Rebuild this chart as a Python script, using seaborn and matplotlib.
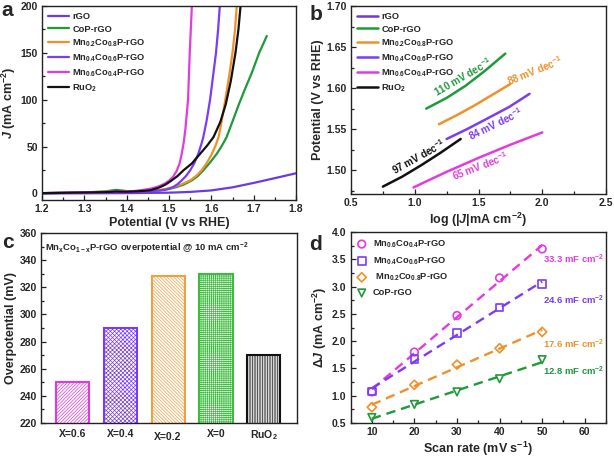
import numpy as np
import pandas as pd
import matplotlib
matplotlib.use('Agg')
import matplotlib.pyplot as plt
import matplotlib.transforms as mtrans
import seaborn as sns
from matplotlib.ticker import MultipleLocator, FormatStrFormatter

# ---------------- data ----------------
# panel a: LSV curves (potential V vs RHE, current density mA cm-2)
rgo_v = [1.20, 1.30, 1.40, 1.50, 1.55, 1.60, 1.65, 1.70, 1.75, 1.80]
rgo_j = [0.0, 0.1, 0.3, 0.8, 1.6, 3.2, 6.5, 11.2, 16.3, 21.5]
cop_v = [1.20, 1.30, 1.35, 1.375, 1.40, 1.45, 1.479, 1.50, 1.518, 1.535, 1.554, 1.568, 1.581,
         1.597, 1.613, 1.625, 1.636, 1.651, 1.665, 1.680, 1.695, 1.713, 1.731]
cop_j = [0.3, 1.0, 2.2, 3.8, 2.5, 2.6, 3.3, 4.8, 6.8, 9.5, 13.9, 18.5, 24.6,
         33, 42.4, 51, 60, 78, 95, 112, 128, 150, 168]
mn02_v = [1.20, 1.30, 1.35, 1.375, 1.40, 1.45, 1.47, 1.49, 1.51, 1.53, 1.55, 1.565, 1.577,
          1.590, 1.601, 1.610, 1.617, 1.624, 1.633, 1.642, 1.650, 1.656, 1.660]
mn02_j = [0.3, 1.0, 1.8, 2.5, 2.3, 2.8, 3.3, 4.6, 6.8, 9.8, 13.9, 19, 24.6,
          33, 42, 51, 60, 76, 100, 125, 150, 175, 200]
mn04_v = [1.20, 1.30, 1.35, 1.375, 1.40, 1.45, 1.47, 1.49, 1.50, 1.51, 1.52, 1.53, 1.54, 1.55,
          1.56, 1.569, 1.576, 1.581, 1.589, 1.597, 1.604, 1.611, 1.616, 1.620]
mn04_j = [0.3, 0.8, 1.2, 2.0, 1.5, 2.2, 2.8, 3.8, 5.0, 6.8, 9.8, 13.9, 18.5, 24.6,
          32.5, 42, 52, 60, 78, 100, 125, 150, 175, 200]
mn06_v = [1.20, 1.25, 1.30, 1.35, 1.375, 1.40, 1.42, 1.44, 1.46, 1.475, 1.49, 1.50, 1.51,
          1.518, 1.525, 1.530, 1.535, 1.539, 1.542, 1.545, 1.549, 1.554]
mn06_j = [0.3, 0.6, 1.0, 1.5, 2.0, 1.8, 2.6, 3.8, 5.4, 7.4, 10.5, 13.5, 18,
          24, 32, 42, 55, 70, 85, 100, 150, 200]
ruo2_v = [1.20, 1.30, 1.35, 1.375, 1.40, 1.43, 1.455, 1.475, 1.49, 1.502, 1.52, 1.534, 1.554,
          1.573, 1.590, 1.605, 1.621, 1.634, 1.646, 1.657, 1.664, 1.669]
ruo2_j = [0.3, 1.0, 1.4, 2.0, 1.8, 2.4, 3.3, 6.0, 9.0, 12.5, 18.5, 24.6, 32,
          42, 51, 60, 76, 95, 120, 150, 175, 200]

# panel b: Tafel plots (log|J|, potential)
taf_cop_x = [1.09, 1.25, 1.40, 1.55, 1.71]
taf_cop_y = [1.575, 1.588, 1.603, 1.621, 1.642]
taf_mn02_x = [1.19, 1.33, 1.47, 1.61, 1.75]
taf_mn02_y = [1.556, 1.567, 1.579, 1.592, 1.605]
taf_mn04_x = [1.25, 1.41, 1.57, 1.74, 1.90]
taf_mn04_y = [1.538, 1.550, 1.563, 1.577, 1.593]
taf_mn06_x = [0.99, 1.25, 1.50, 1.75, 2.00]
taf_mn06_y = [1.479, 1.498, 1.515, 1.531, 1.546]
taf_ruo2_x = [0.75, 0.90, 1.05, 1.20, 1.36]
taf_ruo2_y = [1.480, 1.492, 1.506, 1.521, 1.538]
tafel_slopes = ['110', '88', '84', '65', '97']

# panel c: overpotential @ 10 mA cm-2
over_cats = ['X=0.6', 'X=0.4', 'X=0.2', 'X=0', 'RuO$_2$']
over_vals = [250, 290, 328, 330, 270]

# panel d: double-layer capacitance
scan_rate = [10, 20, 30, 40, 50]
dj_mn06 = [1.07, 1.80, 2.47, 3.16, 3.69]
dj_mn04 = [1.08, 1.67, 2.15, 2.62, 3.05]
dj_mn02 = [0.79, 1.20, 1.57, 1.87, 2.17]
dj_cop = [0.60, 0.84, 1.07, 1.31, 1.66]
cdl_labels = ['33.3', '24.6', '17.6', '12.8']

lab_rgo = 'rGO'
lab_cop = 'CoP-rGO'
lab_mn02 = 'Mn$_{0.2}$Co$_{0.8}$P-rGO'
lab_mn04 = 'Mn$_{0.4}$Co$_{0.6}$P-rGO'
lab_mn06 = 'Mn$_{0.6}$Co$_{0.4}$P-rGO'
lab_ruo2 = 'RuO$_2$'

# ---------------- style ----------------
C_RGO = '#6a3ae6'
C_COP = '#1f9a3a'
C_MN02 = '#f0902a'
C_MN04 = '#7a3cf6'
C_MN06 = '#e53ae0'
C_RUO2 = '#111111'

sns.set_theme(style='ticks')
plt.rcParams['font.family'] = ['Liberation Sans', 'DejaVu Sans']
plt.rcParams['font.weight'] = 'bold'
plt.rcParams['axes.labelweight'] = 'bold'
plt.rcParams['mathtext.fontset'] = 'custom'
plt.rcParams['mathtext.rm'] = 'Liberation Sans:bold'
plt.rcParams['mathtext.bf'] = 'Liberation Sans:bold'
plt.rcParams['mathtext.it'] = 'Liberation Sans:italic:bold'
plt.rcParams['mathtext.default'] = 'bf'
plt.rcParams['hatch.linewidth'] = 0.5
plt.rcParams['axes.edgecolor'] = '#222222'
plt.rcParams['axes.linewidth'] = 1.0

TICK = 7.5
LAB = 9
LEG = 6.7

fig = plt.figure(figsize=(6.14, 4.57), dpi=100)
ax_a = fig.add_axes([0.0684, 0.5624, 0.4137, 0.4245])
ax_b = fig.add_axes([0.5717, 0.5755, 0.4153, 0.4114])
ax_c = fig.add_axes([0.0668, 0.0744, 0.4169, 0.4158])
ax_d = fig.add_axes([0.5709, 0.0744, 0.4161, 0.4179])


def style_axes(ax):
    for s in ax.spines.values():
        s.set_visible(True)
        s.set_linewidth(1.0)
        s.set_color('#222222')
    ax.tick_params(which='both', direction='in', top=False, right=False,
                   labelsize=TICK, width=0.9, color='#222222', pad=3)
    ax.tick_params(which='major', length=3.5)
    ax.tick_params(which='minor', length=2)
    for lab in ax.get_xticklabels() + ax.get_yticklabels():
        lab.set_fontweight('bold')


# ---------------- panel a ----------------
series_a = [(rgo_v, rgo_j, C_RGO, lab_rgo), (cop_v, cop_j, C_COP, lab_cop),
            (mn02_v, mn02_j, C_MN02, lab_mn02), (mn04_v, mn04_j, C_MN04, lab_mn04),
            (mn06_v, mn06_j, C_MN06, lab_mn06), (ruo2_v, ruo2_j, C_RUO2, lab_ruo2)]
for v, j, c, lab in series_a:
    sns.lineplot(x=v, y=j, ax=ax_a, color=c, lw=1.6, sort=False, estimator=None, label=lab)
ax_a.set_xlim(1.2, 1.8)
ax_a.set_ylim(-7, 200)
ax_a.xaxis.set_major_locator(MultipleLocator(0.1))
ax_a.xaxis.set_minor_locator(MultipleLocator(0.05))
ax_a.yaxis.set_major_locator(MultipleLocator(50))
ax_a.yaxis.set_minor_locator(MultipleLocator(25))
ax_a.set_xlabel('Potential (V vs RHE)', fontsize=LAB, labelpad=2)
ax_a.set_ylabel('$\\mathit{J}$ (mA cm$^{-2}$)', fontsize=LAB, labelpad=2)
ax_a.legend(loc='upper left', frameon=False, fontsize=LEG, handlelength=2.3,
            handletextpad=0.3, labelspacing=0.38, borderaxespad=0.25)
style_axes(ax_a)

# ---------------- panel b ----------------
series_b = [([], [], C_RGO, lab_rgo), (taf_cop_x, taf_cop_y, C_COP, lab_cop),
            (taf_mn02_x, taf_mn02_y, C_MN02, lab_mn02), (taf_mn04_x, taf_mn04_y, C_MN04, lab_mn04),
            (taf_mn06_x, taf_mn06_y, C_MN06, lab_mn06), (taf_ruo2_x, taf_ruo2_y, C_RUO2, lab_ruo2)]
for x, y, c, lab in series_b:
    if len(x):
        sns.lineplot(x=x, y=y, ax=ax_b, color=c, lw=1.8, sort=False, estimator=None, label=lab)
    else:
        ax_b.plot([], [], color=c, lw=1.8, label=lab)
handles, labels = ax_b.get_legend_handles_labels()
order = [labels.index(l) for l in [lab_rgo, lab_cop, lab_mn02, lab_mn04, lab_mn06, lab_ruo2]]
ax_b.legend([handles[i] for i in order], [labels[i] for i in order], loc='upper left',
            frameon=False, fontsize=LEG, handlelength=2.3, handletextpad=0.3,
            labelspacing=0.38, borderaxespad=0.25)
ax_b.set_xlim(0.5, 2.5)
ax_b.set_ylim(1.471, 1.70)
ax_b.xaxis.set_major_locator(MultipleLocator(0.5))
ax_b.xaxis.set_minor_locator(MultipleLocator(0.25))
ax_b.yaxis.set_major_locator(MultipleLocator(0.05))
ax_b.yaxis.set_minor_locator(MultipleLocator(0.025))
ax_b.yaxis.set_major_formatter(FormatStrFormatter('%.2f'))
ax_b.set_xlabel('log (|$\\mathit{J}$|mA cm$^{-2}$)', fontsize=LAB, labelpad=2)
ax_b.set_ylabel('Potential (V vs RHE)', fontsize=LAB, labelpad=2)
ann_b = [(1.378, 1.614, 30, C_COP), (1.943, 1.622, 22, C_MN02), (1.637, 1.556, 26, C_MN04),
         (1.512, 1.505, 21, C_MN06), (1.033, 1.516, 29, C_RUO2)]
for (x, y, rot, c), s in zip(ann_b, tafel_slopes):
    ax_b.text(x, y, s + ' mV dec$^{-1}$', color=c, fontsize=7.2, rotation=rot,
              ha='center', va='center', rotation_mode='anchor', fontweight='bold')
style_axes(ax_b)

# ---------------- panel c ----------------
bar_colors = ['#de3ade', '#7a3cf0', '#f0a040', '#3dbb3d', '#111111']
bar_hatches = ['//////////', 'xxxxxxxx', '\\\\\\\\\\\\\\\\\\\\', '++++++++', '||||||||||']
dfc = pd.DataFrame({'cat': over_cats, 'val': over_vals})
sns.barplot(data=dfc, x='cat', y='val', ax=ax_c, color='white', width=0.69,
            saturation=1, err_kws={'linewidth': 0})
for p, c, h in zip(ax_c.patches, bar_colors, bar_hatches):
    p.set_facecolor('white')
    p.set_edgecolor(c)
    p.set_hatch(h)
    p.set_linewidth(1.5)
ax_c.set_xlim(-0.65, 4.69)
ax_c.set_ylim(220, 360)
ax_c.yaxis.set_major_locator(MultipleLocator(20))
ax_c.yaxis.set_minor_locator(MultipleLocator(10))
ax_c.set_xlabel('')
ax_c.set_ylabel('Overpotential (mV)', fontsize=LAB, labelpad=2)
ax_c.text(0.016, 0.92, 'Mn$_x$Co$_{1-x}$P-rGO overpotential @ 10 mA cm$^{-2}$',
          transform=ax_c.transAxes, fontsize=6.8, ha='left', va='center', fontweight='bold')
style_axes(ax_c)
ax_c.tick_params(axis='x', which='both', length=0, pad=4)

# ---------------- panel d ----------------
series_d = [(dj_mn06, C_MN06, 'o', lab_mn06), (dj_mn04, C_MN04, 's', lab_mn04),
            (dj_mn02, C_MN02, 'D', ' ' + lab_mn02), (dj_cop, C_COP, 'v', lab_cop)]
for (y, c, m, lab), cl in zip(series_d, cdl_labels):
    sns.regplot(x=scan_rate, y=y, ax=ax_d, scatter=False, ci=None, truncate=True,
                line_kws=dict(color=c, lw=1.7, dashes=(4, 2.5)))
    sns.scatterplot(x=scan_rate, y=y, ax=ax_d, marker=m, s=30 if m != 'D' else 22,
                    facecolor='none', edgecolor=c, linewidth=1.2, label=lab, zorder=3)
ax_d.set_xlim(5, 65)
ax_d.set_ylim(0.5, 4.0)
ax_d.xaxis.set_major_locator(MultipleLocator(10))
ax_d.xaxis.set_minor_locator(MultipleLocator(5))
ax_d.yaxis.set_major_locator(MultipleLocator(0.5))
ax_d.yaxis.set_minor_locator(MultipleLocator(0.25))
ax_d.yaxis.set_major_formatter(FormatStrFormatter('%.1f'))
ax_d.set_xlabel('Scan rate (mV s$^{-1}$)', fontsize=LAB, labelpad=2)
ax_d.set_ylabel('$\\mathit{\\Delta J}$ (mA cm$^{-2}$)', fontsize=LAB, labelpad=2)
ax_d.legend(loc='upper left', frameon=False, fontsize=LEG, handlelength=1.0,
            handletextpad=0.7, labelspacing=0.55, borderaxespad=0.3)
cdl_pos = [3.505, 2.74, 1.935, 1.445]
for (y, c, m, lab), cl, yp in zip(series_d, cdl_labels, cdl_pos):
    ax_d.text(50.2, yp, cl + ' mF cm$^{-2}$', color=c, fontsize=6.8, ha='left',
              va='center', fontweight='bold')
style_axes(ax_d)

# panel letters
for ch, (x, y) in zip('abcd', [(7, 11), (316, 15), (8, 243), (315, 245)]):
    fig.text(x / 614, 1 - y / 457, ch, fontsize=15, fontweight='bold',
             ha='center', va='center')

# the "X=0.2" label sits slightly lower in the original
fig.canvas.draw()
lab02 = ax_c.get_xticklabels()[2]
lab02.set_transform(lab02.get_transform() + mtrans.ScaledTranslation(0, -3 / 100, fig.dpi_scale_trans))

fig.savefig('out.png', dpi=100)
